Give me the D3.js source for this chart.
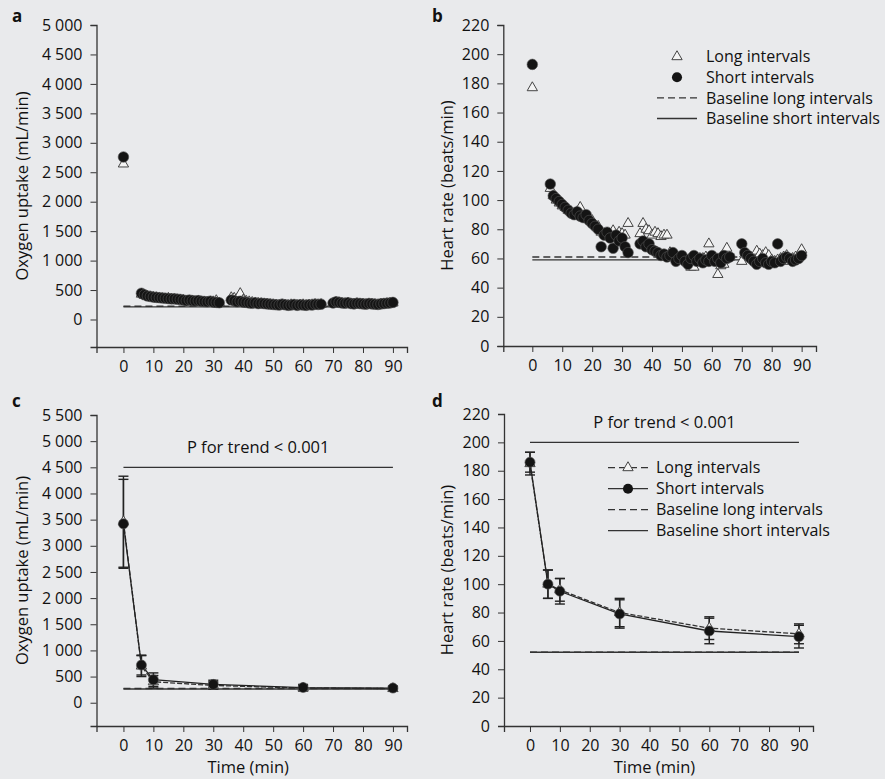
<!DOCTYPE html>
<html>
<head>
<meta charset="utf-8">
<script src="https://cdn.jsdelivr.net/npm/d3@7"></script>
<style>
    body { margin: 0; background: #e9eaec; }
    text { font-family: "Open Sans", "Noto Sans", sans-serif; fill: #111; }
    .axis path, .axis line { stroke: #333; }
    .axis text { font-size: 16px; }
</style>
</head>
<body>
<div id="chart"></div>
<script>

// ---- data ----

// panels a and b: minute-by-minute recovery values
const scatterTimes = [0,
    6,7,8,9,10,11,12,13,14,15,16,17,18,19,20,21,22,23,24,25,26,27,28,29,30,31,32,
    36,37,38,39,40,41,42,43,44,45,46,47,48,49,50,51,52,53,54,55,56,57,58,59,60,61,62,63,64,65,66,
    70,71,72,73,74,75,76,77,78,79,80,81,82,83,84,85,86,87,88,89,90];

const vo2Short = [2760,
    445,420,400,390,380,375,370,365,360,355,350,350,345,340,330,320,330,320,315,320,310,305,300,310,295,290,285,
    330,320,300,310,295,290,280,275,285,270,275,270,265,260,255,250,245,260,250,240,245,255,240,250,245,240,250,245,260,255,260,
    280,300,290,280,275,285,270,265,275,270,265,260,270,265,260,255,265,270,275,280,290];

const vo2Long = [2640,
    430,410,395,385,375,370,360,355,350,360,345,340,335,330,325,315,310,305,300,310,300,295,290,300,300,320,280,
    370,360,350,440,330,310,300,290,280,275,270,265,260,255,250,245,240,250,245,240,250,245,240,245,250,240,245,250,255,250,255,
    270,290,285,275,270,280,265,260,270,265,260,255,265,260,255,250,260,265,270,275,280];

const hrShort = [193,
    111,103,101,99,97,95,93,91,90,92,89,88,90,86,84,82,80,68,76,78,74,67,76,72,74,68,64,
    70,72,68,70,66,65,64,62,63,61,62,64,58,60,62,58,56,60,62,58,60,57,59,58,62,58,60,57,62,60,61,
    70,64,62,60,58,56,58,60,57,56,58,57,70,58,60,61,60,58,59,60,62];

const hrLong = [177,
    108,103,100,98,96,95,93,92,91,92,95,89,89,87,86,83,82,78,77,77,76,79,75,78,77,76,84,
    77,84,80,79,76,78,77,75,76,76,64,63,61,60,61,59,58,54,54,58,60,60,61,70,61,59,49,55,56,67,61,
    58,63,62,61,60,65,63,62,64,62,59,58,59,60,61,62,58,60,61,62,66];

// panels c and d: mean and SD at the sampled time points
const meanTimes = [0, 6, 10, 30, 60, 90];
const vo2ShortMean = [3420, 720, 440, 350, 290, 280];
const vo2ShortSd   = [850, 190, 130, 80, 60, 40];
const vo2LongMean  = [3460, 700, 400, 330, 280, 270];
const vo2LongSd    = [870, 200, 120, 70, 50, 40];
const hrShortMean  = [186, 100, 95, 79, 67, 63];
const hrShortSd    = [7, 10, 9, 10, 9, 8];
const hrLongMean   = [185, 100, 96, 80, 69, 65];
const hrLongSd     = [8, 10, 8, 10, 8, 7];

// baselines: [long, short]
const vo2BaselineA = [225, 215];
const hrBaselineB  = [61, 59];
const vo2BaselineC = [272, 262];
const hrBaselineD  = [52, 52];

const vo2Ticks = [0,500,1000,1500,2000,2500,3000,3500,4000,4500,5000];
const vo2TicksC = [0,500,1000,1500,2000,2500,3000,3500,4000,4500,5000,5500];
const hrTicks = [0,20,40,60,80,100,120,140,160,180,200,220];
const timeTicks = [0,10,20,30,40,50,60,70,80,90];

const legendLabels = ["Long intervals", "Short intervals", "Baseline long intervals", "Baseline short intervals"];

const DARK = "#141414";
const DASH = "7,4";

// ---------------------------------

class Panel {

    constructor(svg, cfg) {
        this.svg = svg;
        this.cfg = cfg;
        this.initVis();
    }

    initVis() {
        let vis = this;
        let c = vis.cfg;

        vis.g = vis.svg.append("g");

        vis.x = d3.scaleLinear().domain(c.xDomain).range([c.left, c.right]);
        vis.y = d3.scaleLinear().domain(c.yDomain).range([c.bottom, c.top]);

        let fmt = d3.format(",");
        vis.yAxis = d3.axisLeft(vis.y)
            .tickValues(c.yTicks)
            .tickSizeOuter(0)
            .tickSize(6)
            .tickPadding(8)
            .tickFormat(d => fmt(d).replace(",", "\u2005"));

        vis.xAxis = d3.axisBottom(vis.x)
            .tickValues(timeTicks)
            .tickSizeOuter(0)
            .tickSize(6)
            .tickPadding(8);

        vis.g.append("g")
            .attr("class", "axis")
            .attr("transform", "translate(" + c.left + ",0)")
            .call(vis.yAxis);

        vis.g.append("g")
            .attr("class", "axis")
            .attr("transform", "translate(0," + c.bottom + ")")
            .call(vis.xAxis);

        vis.g.selectAll(".axis path").attr("stroke-width", 1.3);
        vis.g.selectAll(".axis text").attr("fill", "#111");

        // panel letter
        vis.g.append("text")
            .attr("x", c.letterX).attr("y", c.letterY)
            .attr("font-weight", "bold")
            .attr("font-size", 17)
            .text(c.letter);

        // y label
        vis.g.append("text")
            .attr("transform", "translate(" + c.yLabelX + "," + ((c.top + c.bottom) / 2 + c.yLabelShift) + ") rotate(-90)")
            .attr("text-anchor", "middle")
            .attr("font-size", 16.5)
            .text(c.yLabel);

        if (c.xLabel) {
            vis.g.append("text")
                .attr("x", (vis.x(0) + vis.x(90)) / 2 - 10)
                .attr("y", c.bottom + 47)
                .attr("text-anchor", "middle")
                .attr("font-size", 16.5)
                .text(c.xLabel);
        }

        vis.baselines();
    }

    baselines() {
        let vis = this;
        let c = vis.cfg;
        vis.g.append("line")
            .attr("x1", vis.x(0)).attr("x2", vis.x(90))
            .attr("y1", vis.y(c.baseline[0])).attr("y2", vis.y(c.baseline[0]))
            .attr("stroke", "#333").attr("stroke-width", 1.3)
            .attr("stroke-dasharray", DASH);
        vis.g.append("line")
            .attr("x1", vis.x(0)).attr("x2", vis.x(90))
            .attr("y1", vis.y(c.baseline[1])).attr("y2", vis.y(c.baseline[1]))
            .attr("stroke", "#333").attr("stroke-width", 1.3);
    }

    drawScatter(times, longVals, shortVals) {
        let vis = this;
        let tri = d3.symbol().type(d3.symbolTriangle).size(46);
        let dot = d3.symbol().type(d3.symbolCircle).size(88);

        vis.g.append("g").selectAll("path")
            .data(times.map((t, i) => [t, longVals[i]]))
            .enter().append("path")
            .attr("d", tri)
            .attr("transform", d => "translate(" + vis.x(d[0]) + "," + vis.y(d[1]) + ")")
            .attr("fill", "#f4f4f4")
            .attr("stroke", "#444")
            .attr("stroke-width", 1);

        vis.g.append("g").selectAll("path")
            .data(times.map((t, i) => [t, shortVals[i]]))
            .enter().append("path")
            .attr("d", dot)
            .attr("transform", d => "translate(" + vis.x(d[0]) + "," + vis.y(d[1]) + ")")
            .attr("fill", DARK)
            .attr("stroke", "#555")
            .attr("stroke-width", 0.6);
    }

    drawMeans(times, longM, longSd, shortM, shortSd, trendValue) {
        let vis = this;

        // trend bar + text
        vis.g.append("line")
            .attr("x1", vis.x(0)).attr("x2", vis.x(90))
            .attr("y1", vis.y(trendValue)).attr("y2", vis.y(trendValue))
            .attr("stroke", "#333").attr("stroke-width", 1.3);
        vis.g.append("text")
            .attr("x", (vis.x(0) + vis.x(90)) / 2)
            .attr("y", vis.y(trendValue) - 14)
            .attr("text-anchor", "middle")
            .attr("font-size", 16.5)
            .text("P for trend\u2005<\u20050.001");

        let errBars = (m, sd) => {
            let rows = times.map((t, i) => ({t: t, lo: m[i] - sd[i], hi: m[i] + sd[i]}));
            let eg = vis.g.append("g").attr("stroke", "#222").attr("stroke-width", 1.4);
            rows.forEach(d => {
                let xx = vis.x(d.t);
                eg.append("line").attr("x1", xx).attr("x2", xx).attr("y1", vis.y(d.lo)).attr("y2", vis.y(d.hi));
                eg.append("line").attr("x1", xx - 5).attr("x2", xx + 5).attr("y1", vis.y(d.lo)).attr("y2", vis.y(d.lo));
                eg.append("line").attr("x1", xx - 5).attr("x2", xx + 5).attr("y1", vis.y(d.hi)).attr("y2", vis.y(d.hi));
            });
        };
        errBars(longM, longSd);
        errBars(shortM, shortSd);

        let line = d3.line().x(d => vis.x(d[0])).y(d => vis.y(d[1]));
        vis.g.append("path")
            .attr("d", line(times.map((t, i) => [t, longM[i]])))
            .attr("fill", "none").attr("stroke", "#333").attr("stroke-width", 1.3)
            .attr("stroke-dasharray", "5,2");
        vis.g.append("path")
            .attr("d", line(times.map((t, i) => [t, shortM[i]])))
            .attr("fill", "none").attr("stroke", "#222").attr("stroke-width", 1.3);

        let tri = d3.symbol().type(d3.symbolTriangle).size(46);
        let dot = d3.symbol().type(d3.symbolCircle).size(80);
        vis.g.append("g").selectAll("path")
            .data(times.map((t, i) => [t, longM[i]]))
            .enter().append("path")
            .attr("d", tri)
            .attr("transform", d => "translate(" + vis.x(d[0]) + "," + vis.y(d[1]) + ")")
            .attr("fill", "#f4f4f4").attr("stroke", "#444");
        vis.g.append("g").selectAll("path")
            .data(times.map((t, i) => [t, shortM[i]]))
            .enter().append("path")
            .attr("d", dot)
            .attr("transform", d => "translate(" + vis.x(d[0]) + "," + vis.y(d[1]) + ")")
            .attr("fill", DARK).attr("stroke", "#555").attr("stroke-width", 0.6);
    }

    legend(y0, step, sampleLeft, sampleRight, textX, withLines) {
        let vis = this;
        let lg = vis.g.append("g");
        let mid = (sampleLeft + sampleRight) / 2;
        legendLabels.forEach((lab, i) => {
            let yy = y0 + i * step;
            let dashed = (i === 0 || i === 2);
            if (i >= 2 || withLines) {
                lg.append("line").attr("x1", sampleLeft).attr("x2", sampleRight)
                    .attr("y1", yy).attr("y2", yy)
                    .attr("stroke", "#333").attr("stroke-width", 1.3)
                    .attr("stroke-dasharray", dashed ? DASH : null);
            }
            if (i === 0) {
                lg.append("path").attr("d", d3.symbol().type(d3.symbolTriangle).size(46))
                    .attr("transform", "translate(" + mid + "," + yy + ")")
                    .attr("fill", "#f4f4f4").attr("stroke", "#444");
            }
            if (i === 1) {
                lg.append("path").attr("d", d3.symbol().type(d3.symbolCircle).size(80))
                    .attr("transform", "translate(" + mid + "," + yy + ")")
                    .attr("fill", DARK);
            }
            lg.append("text")
                .attr("x", textX).attr("y", yy)
                .attr("dy", "0.35em")
                .attr("font-size", 16)
                .text(lab);
        });
    }
}

let svg = d3.select("#chart").append("svg")
    .attr("width", 885)
    .attr("height", 779);

svg.append("rect").attr("width", 885).attr("height", 779).attr("fill", "#e9eaec");

// a
let panelA = new Panel(svg, {
    letter: "a", letterX: 12, letterY: 22,
    left: 96.5, right: 407, top: 25, bottom: 347,
    xDomain: [-9, 94.7], yDomain: [-467, 5000], yTicks: vo2Ticks,
    yLabel: "Oxygen uptake (mL/min)", yLabelX: 28, yLabelShift: 0,
    baseline: vo2BaselineA
});
panelA.drawScatter(scatterTimes, vo2Long, vo2Short);

// b
let panelB = new Panel(svg, {
    letter: "b", letterX: 432, letterY: 22,
    left: 503.3, right: 816, top: 25, bottom: 346,
    xDomain: [-9.7, 94.8], yDomain: [0, 220], yTicks: hrTicks,
    yLabel: "Heart rate (beats/min)", yLabelX: 453, yLabelShift: 0,
    baseline: hrBaselineB
});
panelB.drawScatter(scatterTimes, hrLong, hrShort);
panelB.legend(56.7, 20.6, 657, 697, 706, false);

// c
let panelC = new Panel(svg, {
    letter: "c", letterX: 12, letterY: 407,
    left: 96.5, right: 407, top: 415, bottom: 726,
    xDomain: [-9, 94.7], yDomain: [-445, 5500], yTicks: vo2TicksC,
    yLabel: "Oxygen uptake (mL/min)", yLabelX: 28, yLabelShift: 0,
    xLabel: "Time (min)",
    baseline: vo2BaselineC
});
panelC.drawMeans(meanTimes, vo2LongMean, vo2LongSd, vo2ShortMean, vo2ShortSd, 4500);

// d
let panelD = new Panel(svg, {
    letter: "d", letterX: 432, letterY: 407,
    left: 504, right: 813, top: 414, bottom: 726,
    xDomain: [-8.7, 94.7], yDomain: [0, 220], yTicks: hrTicks,
    yLabel: "Heart rate (beats/min)", yLabelX: 453, yLabelShift: 0,
    xLabel: "Time (min)",
    baseline: hrBaselineD
});
panelD.drawMeans(meanTimes, hrLongMean, hrLongSd, hrShortMean, hrShortSd, 200);
panelD.legend(467.7, 21, 608, 648, 656, true);

</script>
</body>
</html>
